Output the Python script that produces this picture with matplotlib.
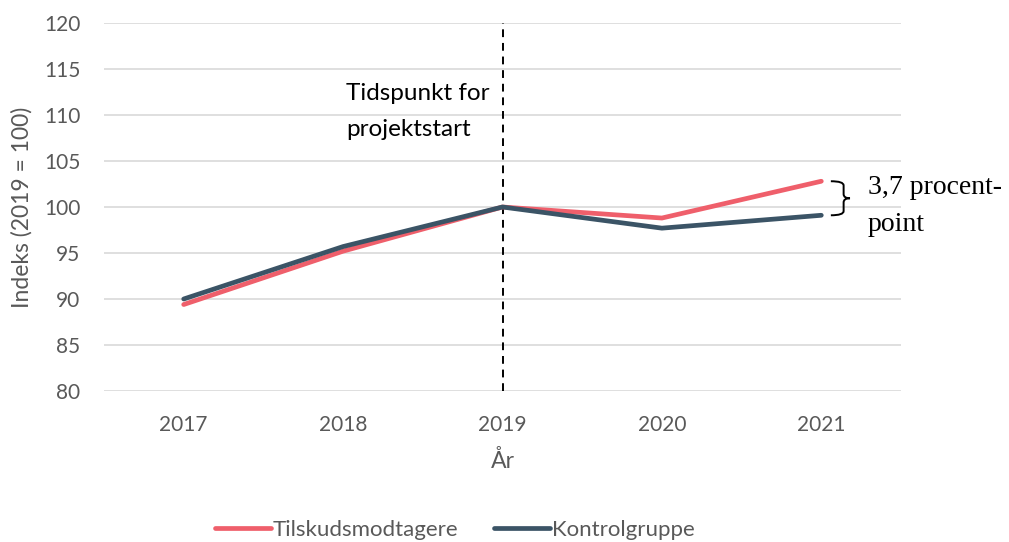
"""Index chart: grant recipients vs. control group, 2017-2021."""

import matplotlib

matplotlib.use("Agg")
import matplotlib.pyplot as plt
import numpy as np
from matplotlib.patches import PathPatch
from matplotlib.path import Path

years = ["2017", "2018", "2019", "2020", "2021"]
tilskud = [89.4, 95.2, 100.0, 98.8, 102.8]
kontrol = [90.0, 95.7, 100.0, 97.7, 99.1]
y_ticks = [80, 85, 90, 95, 100, 105, 110, 115, 120]

RED = "#EF5F6B"
DARK = "#3B5466"
GREY = "#595959"

plt.rcParams["font.family"] = ["Lato", "DejaVu Sans"]

fig = plt.figure(figsize=(10.09, 5.42), dpi=100)
ax = fig.add_axes([104 / 1009, 1 - 391 / 542, (901 - 104) / 1009, (391 - 23) / 542])

x = np.arange(len(years))
ax.plot(x, tilskud, color=RED, lw=3.4, solid_capstyle="round", label="Tilskudsmodtagere", zorder=3)
ax.plot(x, kontrol, color=DARK, lw=3.4, solid_capstyle="round", label="Kontrolgruppe", zorder=4)

ax.set_xlim(-0.5, len(years) - 0.5)
ax.set_ylim(80, 120)
ax.set_yticks(y_ticks)
ax.set_xticks(x)
ax.set_xticklabels(years)
ax.grid(axis="y", color="#D9D9D9", lw=1.2)
ax.set_axisbelow(True)
for s in ax.spines.values():
    s.set_visible(False)
ax.tick_params(length=0, labelsize=15, colors=GREY)
ax.tick_params(axis="y", pad=17)
ax.tick_params(axis="x", pad=17)

ax.set_ylabel("Indeks (2019 = 100)", fontsize=16.5, color=GREY, labelpad=8)
ax.set_xlabel("År", fontsize=16.5, color=GREY, labelpad=11)

# project start marker
ax.axvline(2, color="black", lw=1.4, ls=(0, (4, 3)), zorder=2)
ax.text(1.02, 110.4, "Tidspunkt for\nprojektstart", ha="left", va="center",
        fontsize=17.5, color="black", linespacing=1.9)

# curly brace between the two 2021 end points
top, bot = tilskud[-1], kontrol[-1]
mid = (top + bot) / 2
x0, x1, x2 = 4.06, 4.14, 4.18
r = 0.45
verts = [(x0, top), (x1, top), (x1, top - r),
         (x1, mid + r), (x1, mid), (x2, mid),
         (x1, mid), (x1, mid - r),
         (x1, bot + r), (x1, bot), (x0, bot)]
codes = [Path.MOVETO, Path.CURVE3, Path.CURVE3,
         Path.LINETO, Path.CURVE3, Path.CURVE3,
         Path.CURVE3, Path.CURVE3,
         Path.LINETO, Path.CURVE3, Path.CURVE3]
ax.add_patch(PathPatch(Path(verts, codes), fill=False, lw=1.4, color="black", clip_on=False))

ax.text(4.29, 100.1, "3,7 procent-\npoint", ha="left", va="center",
        fontsize=20, family="Liberation Serif", color="black", linespacing=1.6,
        clip_on=False)

fig.legend(loc="center", bbox_to_anchor=(455 / 1009, 1 - 530 / 542), ncol=2, frameon=False,
           fontsize=16, handlelength=2.5, handletextpad=0.1, columnspacing=1.6,
           labelcolor=GREY)

fig.savefig("out.png", dpi=100)
